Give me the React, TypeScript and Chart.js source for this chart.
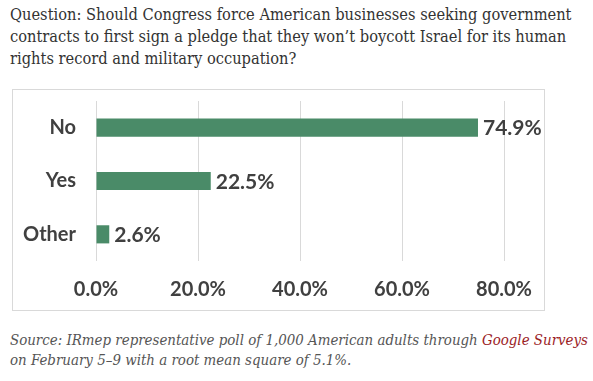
import React, { useEffect, useRef } from "react";
import { Chart, registerables } from "chart.js";

Chart.register(...registerables);

const categories = ["No", "Yes", "Other"];
const values = [74.9, 22.5, 2.6];
const xTickValues = [0, 20, 40, 60, 80];
const titleLines = [
  "Question: Should Congress force American businesses seeking government",
  "contracts to first sign a pledge that they won\u2019t boycott Israel for its human",
  "rights record and military occupation?",
];
const sourceBefore = "Source: IRmep representative poll of 1,000 American adults through ";
const sourceLink = "Google Surveys";
const sourceAfter = "on February 5\u20139 with a root mean square of 5.1%.";

const BAR_COLOR = "#4a8b68";
const TEXT_COLOR = "#404040";
const LABEL_FONT = "Lato";

const valueLabelPlugin = {
  id: "valueLabels",
  afterDatasetsDraw(chart: any) {
    const ctx = chart.ctx;
    const meta = chart.getDatasetMeta(0);
    ctx.save();
    ctx.font = `bold 21px ${LABEL_FONT}`;
    ctx.fillStyle = TEXT_COLOR;
    ctx.textAlign = "left";
    ctx.textBaseline = "middle";
    meta.data.forEach((bar: any, i: number) => {
      ctx.fillText(values[i].toFixed(1) + "%", bar.x + 5, bar.y + 1);
    });
    ctx.restore();
  },
};

export default function App() {
  const canvasRef = useRef<HTMLCanvasElement>(null);

  useEffect(() => {
    if (!canvasRef.current) return;
    const chart = new Chart(canvasRef.current, {
      type: "bar",
      data: {
        labels: categories,
        datasets: [
          {
            data: values,
            backgroundColor: BAR_COLOR,
            borderWidth: 0,
            categoryPercentage: 1,
            barPercentage: 0.34,
          },
        ],
      },
      options: {
        indexAxis: "y",
        responsive: false,
        animation: false,
        layout: { padding: { top: 11, right: 40, left: 0, bottom: 0 } },
        plugins: { legend: { display: false }, tooltip: { enabled: false } },
        scales: {
          x: {
            min: 0,
            max: 80,
            afterBuildTicks: (scale: any) => {
              scale.ticks = xTickValues.map((v) => ({ value: v }));
            },
            afterFit: (scale: any) => {
              scale.height = 49;
              scale.paddingLeft = 0;
              scale.paddingRight = 0;
            },
            grid: { color: "#d9d9d9", drawTicks: false, lineWidth: 1 },
            border: { display: false },
            ticks: {
              padding: 17,
              color: TEXT_COLOR,
              font: { family: LABEL_FONT, size: 20, weight: "bold" },
              callback: (v: any) => Number(v).toFixed(1) + "%",
            },
          },
          y: {
            afterFit: (scale: any) => {
              scale.width = 83;
              scale.paddingTop = 0;
              scale.paddingBottom = 0;
            },
            grid: { display: false, drawTicks: false },
            border: { display: false },
            ticks: {
              padding: 20,
              color: TEXT_COLOR,
              font: { family: LABEL_FONT, size: 20, weight: "bold" },
            },
          },
        },
      },
      plugins: [valueLabelPlugin],
    });
    return () => chart.destroy();
  }, []);

  return (
    <div>
      <div
        style={{
          position: "absolute",
          left: 10,
          top: 4,
          fontFamily: "'DejaVu Serif Condensed', serif",
          fontSize: 16.3,
          lineHeight: "22px",
          color: "#333",
          whiteSpace: "pre",
        }}
      >
        {titleLines.join("\n")}
      </div>
      <div
        style={{
          position: "absolute",
          left: 12,
          top: 89,
          width: 533,
          height: 222,
          boxSizing: "border-box",
          border: "1px solid #d9d9d9",
          background: "#fff",
        }}
      >
        <canvas ref={canvasRef} width={531} height={220} style={{ display: "block" }} />
      </div>
      <div
        style={{
          position: "absolute",
          left: 10,
          top: 330,
          fontFamily: "'DejaVu Serif Condensed', serif",
          fontStyle: "italic",
          fontSize: 14.9,
          lineHeight: "20px",
          color: "#555",
          whiteSpace: "pre",
        }}
      >
        {sourceBefore}
        <span style={{ color: "#9b1c1f" }}>{sourceLink}</span>
        {"\n" + sourceAfter}
      </div>
    </div>
  );
}
